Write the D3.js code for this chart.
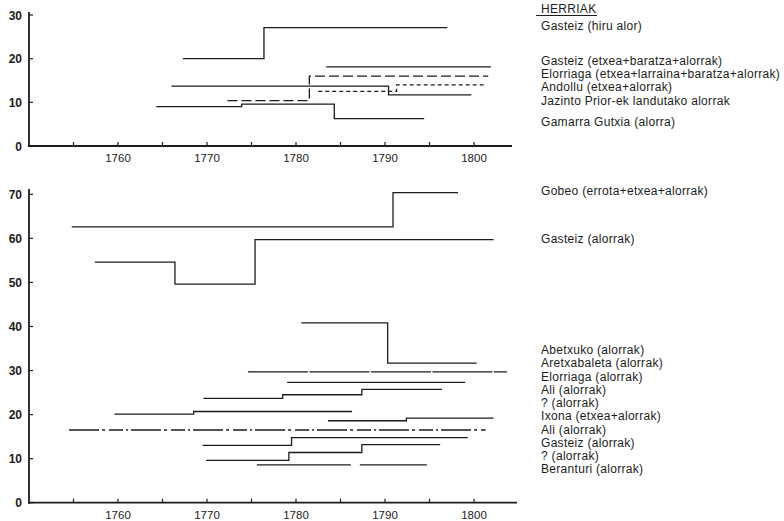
<!DOCTYPE html>
<html><head><meta charset="utf-8">
<script src="https://cdn.jsdelivr.net/npm/d3@7"></script>
<style>body{margin:0;background:#fff}svg{display:block}</style>
</head><body><svg id="c" width="784" height="521"></svg>
<script>
// ---------- data ----------
const xTickYears = [1755,1760,1765,1770,1775,1780,1785,1790,1795,1800];
const xTickLabels = [1760,1770,1780,1790,1800];
const topYTicks = [0,10,20,30];
const bottomYTicks = [0,10,20,30,40,50,60,70];

// top panel: breakpoints (years) and step values
const topNames = ["Gasteiz (hiru alor)","Gasteiz (etxea+baratza+alorrak)","Elorriaga (etxea+larraina+baratza+alorrak)","Andollu (etxea+alorrak)","Jazinto Prior-ek landutako alorrak","Gamarra Gutxia (alorra)"];
const topYears = [
  [1767.3,1776.4,1797.0],
  [1783.4,1801.9],
  [1772.3,1781.5,1801.6],
  [1766.0,1790.4,1799.7],
  [1782.5,1791.3,1801.2],
  [1764.3,1773.9,1784.3,1794.4]
];
const topValues = [
  [20,27.1],
  [18.1],
  [10.4,16.0],
  [13.7,11.7],
  [12.5,14.0],
  [9.0,9.6,6.25]
];
const topLabelY = [27.5,19.5,16.5,13.4,10.2,5.5];

// bottom panel
const bottomNames = ["Gobeo (errota+etxea+alorrak)","Gasteiz (alorrak)","Abetxuko (alorrak)","Aretxabaleta (alorrak)","Elorriaga (alorrak)","Ali (alorrak)","? (alorrak)","Ixona (etxea+alorrak)","Ali (alorrak)","Gasteiz (alorrak)","? (alorrak)","Beranturi (alorrak)"];
const bottomYears = [
  [1754.8,1790.9,1798.2],
  [1757.4,1766.4,1775.4,1802.2],
  [1780.6,1790.3,1800.3],
  [1774.6,1803.7],
  [1779.0,1799.0],
  [1769.6,1778.5,1787.4,1796.4],
  [1759.6,1768.5,1786.3],
  [1783.6,1792.4,1802.2],
  [1754.5,1801.3],
  [1769.5,1779.5,1799.3],
  [1769.9,1779.2,1787.4,1796.2],
  [1775.6,1794.7]
];
const bottomValues = [
  [62.6,70.4],
  [54.6,49.6,59.7],
  [40.8,31.7],
  [29.7],
  [27.3],
  [23.7,24.5,25.7],
  [20.1,20.7],
  [18.6,19.2],
  [16.5],
  [13.0,14.75],
  [9.6,11.4,13.2],
  [8.6]
];
const bottomLabelY = [70.8,59.9,34.6,31.6,28.6,25.6,22.6,19.6,16.6,13.6,10.6,7.6];

// ---------- styles ----------
const topDash = [null,null,"10,4",null,"4,3",null];
const bottomDash = [null,null,null,"60,1.5",null,null,null,null,"30,3,3,4,14,3,2,3",null,null,"94,9,300"];
const ink = "#1c1c1c";
const font = "Liberation Sans, Arial, sans-serif";

// ---------- drawing ----------
const svg = d3.select("#c");
const x = d3.scaleLinear().domain([1750,1805]).range([29,518.5]);

function stepPoints(yrs, vals){
  const pts=[];
  vals.forEach((v,i)=>{pts.push([yrs[i],v]);pts.push([yrs[i+1],v]);});
  return pts;
}

function panel(y, yTicks, yTop, xEnd, years, values, dashes, names, labelY){
  const g = svg.append("g");
  const y0 = y(0);
  g.append("line").attr("x1",x(1750)).attr("x2",x(1750)).attr("y1",yTop).attr("y2",y0+1)
    .attr("stroke",ink).attr("stroke-width",1.8);
  g.append("line").attr("x1",x(1750)-1).attr("x2",xEnd).attr("y1",y0).attr("y2",y0)
    .attr("stroke",ink).attr("stroke-width",1.8);
  g.selectAll(".xt").data(xTickYears).join("line")
    .attr("x1",d=>x(d)).attr("x2",d=>x(d)).attr("y1",y0).attr("y2",y0-4)
    .attr("stroke",ink).attr("stroke-width",1.2);
  g.selectAll(".xl").data(xTickLabels).join("text")
    .attr("x",d=>x(d)).attr("y",y0+16).attr("text-anchor","middle")
    .attr("font-family",font).attr("font-size",11.5)
    .attr("fill",ink).text(d=>d);
  g.selectAll(".yt").data(yTicks).join("line")
    .attr("x1",x(1750)).attr("x2",x(1750)+4).attr("y1",d=>y(d)).attr("y2",d=>y(d))
    .attr("stroke",ink).attr("stroke-width",1.2);
  g.selectAll(".yl").data(yTicks).join("text")
    .attr("x",x(1750)-7).attr("y",d=>y(d)+4.5).attr("text-anchor","end")
    .attr("font-family",font).attr("font-size",12).attr("font-weight","bold")
    .attr("fill",ink).text(d=>d);
  const line = d3.line().x(d=>x(d[0])).y(d=>y(d[1]));
  years.forEach((yrs,i)=>{
    g.append("path").attr("d",line(stepPoints(yrs,values[i])))
      .attr("fill","none").attr("stroke",ink).attr("stroke-width",1.3)
      .attr("stroke-dasharray",dashes[i]||null);
  });
  g.selectAll(".lab").data(names).join("text")
    .attr("x",541).attr("y",(d,i)=>y(labelY[i])+4)
    .attr("font-family",font).attr("font-size",12).attr("letter-spacing",0.3)
    .attr("fill",ink).text(d=>d);
}

const yTop = d3.scaleLinear().domain([0,30]).range([146,15]);
panel(yTop, topYTicks, 12, 512, topYears, topValues, topDash, topNames, topLabelY);

const yBot = d3.scaleLinear().domain([0,70]).range([502.7,194.3]);
panel(yBot, bottomYTicks, 189, 517, bottomYears, bottomValues, bottomDash, bottomNames, bottomLabelY);

svg.append("text").attr("x",541).attr("y",12.5)
  .attr("font-family",font).attr("font-size",12).attr("letter-spacing",0.3)
  .attr("fill",ink).text("HERRIAK");
svg.append("line").attr("x1",536).attr("x2",597).attr("y1",15.5).attr("y2",15.5)
  .attr("stroke",ink).attr("stroke-width",1);
</script></body></html>
